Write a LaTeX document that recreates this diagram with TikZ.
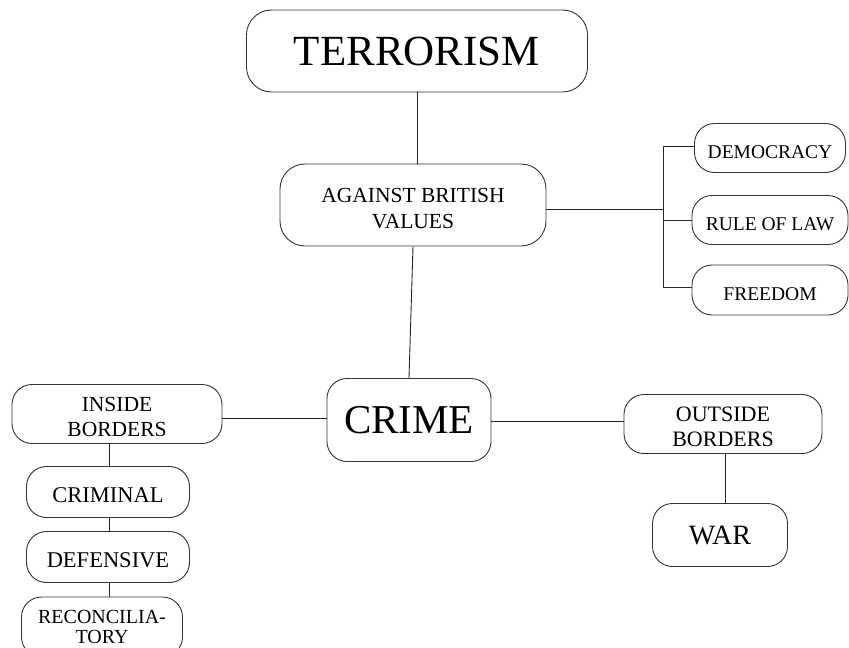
\documentclass[tikz,border=0pt]{standalone}
\usepackage{fontspec}
\setmainfont{Liberation Serif}
% caption text set a little below the middle of its box
\newcommand\lowtext[1]{\raisebox{-5pt}[\height][\depth]{\begin{tabular}{@{}c@{}}#1\end{tabular}}}
\begin{document}
\begin{tikzpicture}[x=1pt,y=-1pt,
  box/.style={draw=black!80, line width=0.9pt, rounded corners=20pt, inner sep=0pt, align=center,
    font=\fontsize{21.5}{25}\selectfont},
  small/.style={font=\fontsize{19.5}{25}\selectfont},
  link/.style={draw=black!85, line width=0.9pt}]
\useasboundingbox (0,0) rectangle (849,648);
\clip (0,0) rectangle (849,648);

% top chain
\node[box, rounded corners=25pt, minimum width=341pt, minimum height=82pt,
  font=\fontsize{43}{48}\selectfont] (terror) at (417,51) {TERRORISM};
\node[box, rounded corners=25pt, minimum width=266pt, minimum height=82pt,
  font=\fontsize{21.5}{26}\selectfont] (against) at (413,205) {\lowtext{AGAINST BRITISH\\VALUES}};
\node[box, minimum width=164pt, minimum height=83pt,
  font=\fontsize{41}{46}\selectfont] (crime) at (409,420) {CRIME};

% values
\node[box, small, minimum width=151pt, minimum height=49pt] (demo) at (770,148) {\lowtext{DEMOCRACY}};
\node[box, small, minimum width=156pt, minimum height=49pt] (law) at (770,220) {\lowtext{RULE OF LAW}};
\node[box, small, minimum width=156pt, minimum height=50pt] (free) at (770,290) {\lowtext{FREEDOM}};

% inside borders branch
\node[box, minimum width=210pt, minimum height=59pt] (inside) at (117,414) {\lowtext{INSIDE\\BORDERS}};
\node[box, font=\fontsize{22.5}{25}\selectfont, minimum width=163pt, minimum height=51pt] (criminal) at (108,492) {\lowtext{CRIMINAL}};
\node[box, font=\fontsize{22.5}{25}\selectfont, minimum width=163pt, minimum height=51pt] (defensive) at (108,557) {\lowtext{DEFENSIVE}};
\node[box, minimum width=161pt, minimum height=60pt,
  font=\fontsize{20}{20}\selectfont] (recon) at (102,627) {RECONCILIA-\\TORY};

% outside borders branch
\node[box, font=\fontsize{22}{25}\selectfont, minimum width=198pt, minimum height=59pt] (outside) at (723,424) {\lowtext{OUTSIDE\\BORDERS}};
\node[box, minimum width=135pt, minimum height=63pt,
  font=\fontsize{28}{30}\selectfont] (war) at (720,535) {WAR};

% connectors
\draw[link] (terror.south) -- (terror.south |- against.north);
\draw[link] (against.south) -- (crime.north);

\coordinate (br) at (663,209);
\draw[link] (against.east |- br) -- (br);
\draw[link] (br |- 0,146) -- (br |- 0,287);
\draw[link] (br |- 0,146) -- (demo.west |- 0,146);
\draw[link] (br |- law.west) -- (law.west);
\draw[link] (br |- 0,287) -- (free.west |- 0,287);

\draw[link] (crime.west |- 0,418) -- (inside.east |- 0,418);
\draw[link] (crime.east |- 0,421) -- (outside.west |- 0,421);

\draw[link] (inside.south -| 109,0) -- (criminal.north -| 109,0);
\draw[link] (criminal.south -| 109,0) -- (defensive.north -| 109,0);
\draw[link] (defensive.south -| 109,0) -- (recon.north -| 109,0);

\draw[link] (outside.south -| 725,0) -- (war.north -| 725,0);
\end{tikzpicture}
\end{document}
